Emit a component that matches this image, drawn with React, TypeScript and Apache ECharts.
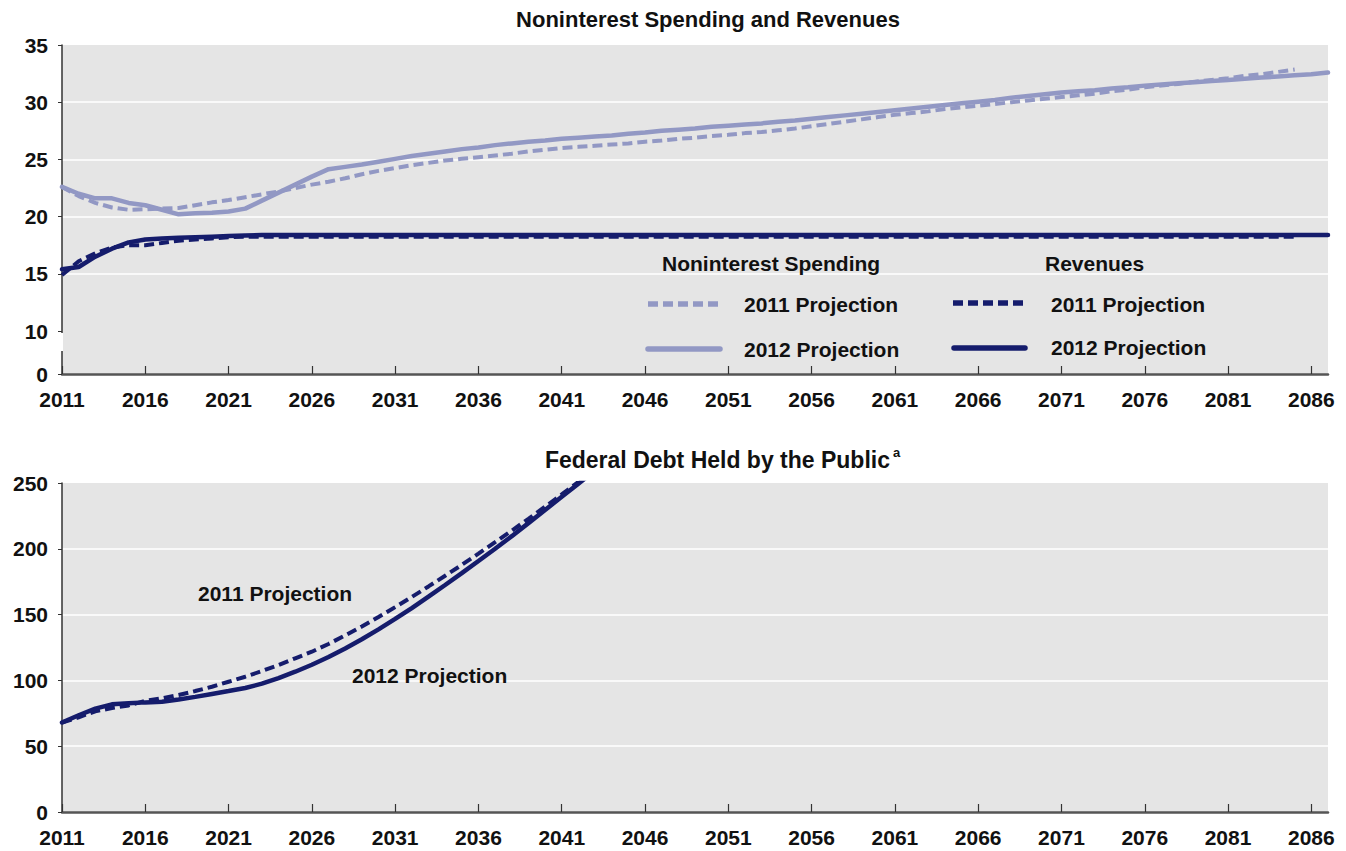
import React, { useEffect, useRef } from "react";
import * as echarts from "echarts";

// ---------- DATA ----------
const years = [
  2011, 2012, 2013, 2014, 2015, 2016, 2017, 2018, 2019, 2020,
  2021, 2022, 2023, 2024, 2025, 2026, 2027, 2028, 2029, 2030,
  2031, 2032, 2033, 2034, 2035, 2036, 2037, 2038, 2039, 2040,
  2041, 2042, 2043, 2044, 2045, 2046, 2047, 2048, 2049, 2050,
  2051, 2052, 2053, 2054, 2055, 2056, 2057, 2058, 2059, 2060,
  2061, 2062, 2063, 2064, 2065, 2066, 2067, 2068, 2069, 2070,
  2071, 2072, 2073, 2074, 2075, 2076, 2077, 2078, 2079, 2080,
  2081, 2082, 2083, 2084, 2085, 2086, 2087,
];

// Noninterest spending, % of GDP (starts 2011)
const spending2011 = [
  22.6, 21.8, 21.2, 20.8, 20.6, 20.65, 20.7, 20.75, 21.0, 21.25,
  21.45, 21.7, 21.95, 22.2, 22.5, 22.8, 23.05, 23.35, 23.7, 24.0,
  24.25, 24.5, 24.7, 24.9, 25.05, 25.2, 25.35, 25.5, 25.7, 25.85,
  26.0, 26.1, 26.2, 26.3, 26.4, 26.55, 26.65, 26.8, 26.9, 27.05,
  27.15, 27.3, 27.4, 27.55, 27.7, 27.9, 28.1, 28.3, 28.5, 28.7,
  28.9, 29.05, 29.2, 29.4, 29.55, 29.7, 29.85, 30.0, 30.15, 30.3,
  30.45, 30.6, 30.75, 30.95, 31.1, 31.3, 31.45, 31.6, 31.8, 31.95,
  32.1, 32.3, 32.45, 32.65, 32.85,
];
const spending2012 = [
  22.6, 22.0, 21.6, 21.6, 21.2, 21.0, 20.6, 20.2, 20.3, 20.35,
  20.45, 20.7, 21.4, 22.1, 22.8, 23.5, 24.15, 24.35, 24.55, 24.8,
  25.05, 25.3, 25.5, 25.7, 25.9, 26.05, 26.25, 26.4, 26.55, 26.65,
  26.8, 26.9, 27.0, 27.1, 27.25, 27.35, 27.5, 27.6, 27.7, 27.85,
  27.95, 28.05, 28.15, 28.3, 28.4, 28.55, 28.7, 28.85, 29.0, 29.15,
  29.3, 29.45, 29.6, 29.75, 29.9, 30.05, 30.2, 30.4, 30.55, 30.7,
  30.85, 30.95, 31.05, 31.2, 31.3, 31.45, 31.55, 31.65, 31.75, 31.85,
  31.95, 32.05, 32.15, 32.25, 32.35, 32.45, 32.6,
];

// Revenues, % of GDP (starts 2011)
const revenues2011 = [
  14.9, 16.1, 16.8, 17.3, 17.5, 17.5, 17.7, 17.9, 18.0, 18.1,
  18.2, 18.25, 18.25, 18.25, 18.25, 18.25, 18.25, 18.25, 18.25, 18.25,
  18.25, 18.25, 18.25, 18.25, 18.25, 18.25, 18.25, 18.25, 18.25, 18.25,
  18.25, 18.25, 18.25, 18.25, 18.25, 18.25, 18.25, 18.25, 18.25, 18.25,
  18.25, 18.25, 18.25, 18.25, 18.25, 18.25, 18.25, 18.25, 18.25, 18.25,
  18.25, 18.25, 18.25, 18.25, 18.25, 18.25, 18.25, 18.25, 18.25, 18.25,
  18.25, 18.25, 18.25, 18.25, 18.25, 18.25, 18.25, 18.25, 18.25, 18.25,
  18.25, 18.25, 18.25, 18.25, 18.25,
];
const revenues2012 = [
  15.4, 15.6, 16.5, 17.2, 17.75, 18.0, 18.1, 18.15, 18.2, 18.25,
  18.3, 18.35, 18.4, 18.4, 18.4, 18.4, 18.4, 18.4, 18.4, 18.4,
  18.4, 18.4, 18.4, 18.4, 18.4, 18.4, 18.4, 18.4, 18.4, 18.4,
  18.4, 18.4, 18.4, 18.4, 18.4, 18.4, 18.4, 18.4, 18.4, 18.4,
  18.4, 18.4, 18.4, 18.4, 18.4, 18.4, 18.4, 18.4, 18.4, 18.4,
  18.4, 18.4, 18.4, 18.4, 18.4, 18.4, 18.4, 18.4, 18.4, 18.4,
  18.4, 18.4, 18.4, 18.4, 18.4, 18.4, 18.4, 18.4, 18.4, 18.4,
  18.4, 18.4, 18.4, 18.4, 18.4, 18.4, 18.4,
];

// Federal debt held by the public, % of GDP (starts 2011)
const debt2011 = [
  68, 72, 76.5, 79, 81, 84.5, 86.4, 88.9, 91.9, 95.2,
  99.0, 102.8, 107.1, 111.7, 116.8, 121.8, 127.7, 134.2, 141.0, 148.2,
  155.7, 163.4, 171.4, 179.5, 187.8, 196.3, 205.0, 213.8, 222.8, 232.0,
  241.3, 250.8, 260.5,
];
const debt2012 = [
  68, 73.5, 78.5, 81.8, 82.6, 83.3, 83.8, 85.5, 87.5, 89.7,
  91.9, 94.2, 97.5, 101.8, 106.6, 111.9, 117.8, 124.3, 131.3, 138.8,
  146.7, 155.0, 163.6, 172.5, 181.5, 190.7, 200.0, 209.6, 219.5, 229.5,
  239.5, 249.5, 259.5,
];

const xTicks = [2011, 2016, 2021, 2026, 2031, 2036, 2041, 2046, 2051, 2056, 2061, 2066, 2071, 2076, 2081, 2086];
// top panel has a broken axis: the "0" label sits at the bottom of the scale
const topYTicks = [6.25, 10, 15, 20, 25, 30, 35];
const topYLabels = ["0", "10", "15", "20", "25", "30", "35"];
const bottomYTicks = [0, 50, 100, 150, 200, 250];

const LIGHT = "#9298c4";
const NAVY = "#151c6c";
const FONT = "Liberation Sans";

const pairs = (vals: number[]) => vals.map((v, i) => [years[i], v]);

export default function App() {
  const ref = useRef<HTMLDivElement>(null);
  useEffect(() => {
    if (!ref.current) return;
    const chart = echarts.init(ref.current, null, { renderer: "svg" });

    const labelStyle = { fontFamily: FONT, fontWeight: "bold" as const, fontSize: 21, color: "#111" };

    const xAxisBase = (gridIndex: number) => ({
      type: "value" as const,
      gridIndex,
      min: 2011,
      max: 2087,
      axisLine: { show: true, onZero: false, lineStyle: { color: "#555", width: 2.5 } },
      axisTick: { show: true, inside: true, length: 8, customValues: xTicks, lineStyle: { color: "#333", width: 1.2 } },
      axisLabel: { ...labelStyle, margin: 15, customValues: xTicks, formatter: (v: number) => String(v) },
      splitLine: { show: false },
    });

    const text = (x: number, y: number, t: string, size = 21, align = "left") => ({
      type: "text",
      x,
      y,
      z: 50,
      style: {
        text: t,
        fill: "#111",
        font: `bold ${size}px "${FONT}"`,
        textAlign: align,
        textVerticalAlign: "middle",
      },
    });
    const sample = (x1: number, x2: number, y: number, color: string, dashed: boolean) => ({
      type: "line",
      z: 50,
      shape: { x1, y1: y, x2, y2: y },
      style: {
        stroke: color,
        lineWidth: 5.5,
        lineDash: dashed ? [10, 5] : null,
        lineCap: dashed ? "butt" : "round",
      },
    });

    const option: any = {
      animation: false,
      backgroundColor: "#ffffff",
      grid: [
        { left: 62, top: 45, width: 1266, height: 329, show: true, backgroundColor: "#e5e5e5", borderWidth: 0, containLabel: false, outerBoundsMode: "none" },
        { left: 62, top: 483, width: 1266, height: 329, show: true, backgroundColor: "#e5e5e5", borderWidth: 0, containLabel: false, outerBoundsMode: "none" },
      ],
      xAxis: [xAxisBase(0), xAxisBase(1)],
      yAxis: [
        {
          type: "value",
          gridIndex: 0,
          min: 6.25,
          max: 35,
          axisLine: { show: true, lineStyle: { color: "#333", width: 1.5 } },
          axisTick: { show: true, length: 4, customValues: topYTicks, lineStyle: { color: "#333" } },
          axisLabel: {
            ...labelStyle,
            margin: 14,
            customValues: topYTicks,
            formatter: (v: number) => {
              const i = topYTicks.indexOf(v);
              return i >= 0 ? topYLabels[i] : "";
            },
          },
          splitLine: {
            show: true,
            lineStyle: {
              width: 1.5,
              color: ["rgba(0,0,0,0)", "rgba(0,0,0,0)", "#ffffff", "#ffffff", "#ffffff", "#ffffff", "rgba(0,0,0,0)"],
            },
          },
        },
        {
          type: "value",
          gridIndex: 1,
          min: 0,
          max: 250,
          axisLine: { show: true, lineStyle: { color: "#333", width: 1.5 } },
          axisTick: { show: true, length: 4, customValues: bottomYTicks, lineStyle: { color: "#333" } },
          axisLabel: { ...labelStyle, margin: 14, customValues: bottomYTicks },
          splitLine: {
            show: true,
            lineStyle: {
              width: 1.5,
              color: ["rgba(0,0,0,0)", "#ffffff", "#ffffff", "#ffffff", "#ffffff", "rgba(0,0,0,0)"],
            },
          },
        },
      ],
      series: [
        {
          name: "Noninterest Spending, 2012 Projection",
          type: "line",
          xAxisIndex: 0,
          yAxisIndex: 0,
          data: pairs(spending2012),
          showSymbol: false,
          lineStyle: { color: LIGHT, width: 4.5, cap: "round" },
          z: 3,
        },
        {
          name: "Noninterest Spending, 2011 Projection",
          type: "line",
          xAxisIndex: 0,
          yAxisIndex: 0,
          data: pairs(spending2011),
          showSymbol: false,
          lineStyle: { color: LIGHT, width: 4, type: [10, 5] },
          z: 4,
        },
        {
          name: "Revenues, 2011 Projection",
          type: "line",
          xAxisIndex: 0,
          yAxisIndex: 0,
          data: pairs(revenues2011),
          showSymbol: false,
          lineStyle: { color: NAVY, width: 4, type: [10, 5] },
          z: 3,
        },
        {
          name: "Revenues, 2012 Projection",
          type: "line",
          xAxisIndex: 0,
          yAxisIndex: 0,
          data: pairs(revenues2012),
          showSymbol: false,
          lineStyle: { color: NAVY, width: 4.5, cap: "round" },
          z: 4,
        },
        {
          name: "Debt, 2011 Projection",
          type: "line",
          xAxisIndex: 1,
          yAxisIndex: 1,
          data: pairs(debt2011),
          showSymbol: false,
          clip: true,
          lineStyle: { color: NAVY, width: 4, type: [10, 5] },
          z: 3,
        },
        {
          name: "Debt, 2012 Projection",
          type: "line",
          xAxisIndex: 1,
          yAxisIndex: 1,
          data: pairs(debt2012),
          showSymbol: false,
          clip: true,
          lineStyle: { color: NAVY, width: 4.5, cap: "round" },
          z: 4,
        },
      ],
      graphic: [
        // break in the top panel's vertical axis
        { type: "rect", z: 60, shape: { x: 59, y: 333, width: 4, height: 18 }, style: { fill: "#ffffff" } },
        text(708, 19, "Noninterest Spending and Revenues", 22, "center"),
        text(890, 460, "Federal Debt Held by the Public", 23, "right"),
        text(893, 452, "a", 13, "left"),
        // legend
        text(662, 263, "Noninterest Spending"),
        text(1045, 263, "Revenues"),
        sample(648, 720, 304, LIGHT, true),
        text(744, 304, "2011 Projection"),
        sample(648, 720, 349, LIGHT, false),
        text(744, 349, "2012 Projection"),
        sample(953, 1026, 303, NAVY, true),
        text(1051, 304, "2011 Projection"),
        sample(954, 1025, 348, NAVY, false),
        text(1051, 347, "2012 Projection"),
        // debt annotations
        text(198, 593, "2011 Projection"),
        text(352, 675, "2012 Projection"),
      ],
    };

    chart.setOption(option);
    return () => chart.dispose();
  }, []);

  return (
    <div
      ref={ref}
      style={{ position: "absolute", left: 0, top: 0, width: 1346, height: 851, background: "#fff" }}
    />
  );
}
